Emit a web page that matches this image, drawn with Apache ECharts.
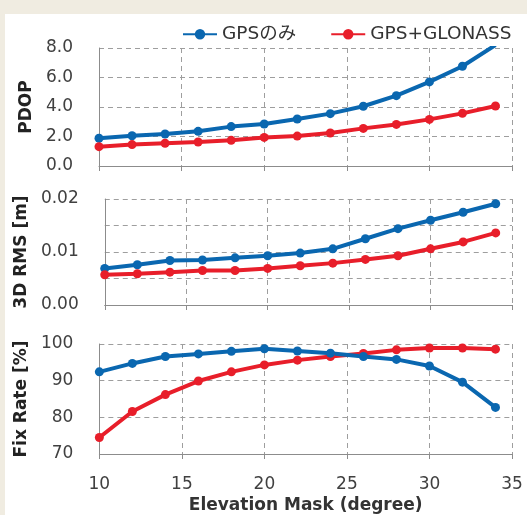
<!DOCTYPE html>
<html><head><meta charset="utf-8">
<script src="https://cdn.jsdelivr.net/npm/echarts@6/dist/echarts.min.js"></script>
<style>
html,body{margin:0;padding:0;background:#f0ece1;}
#wrap{position:relative;width:527px;height:515px;background:#f0ece1;overflow:hidden;}
#chart{position:absolute;left:5px;top:14px;width:522px;height:501px;background:#ffffff;}
</style></head>
<body><div id="wrap"><div id="chart"></div></div>
<script>
const elevation = [10,12,14,16,18,20,22,24,26,28,30,32,34];
const seriesNames = ['GPSのみ','GPS+GLONASS'];
const pdopGps = [1.88,2.05,2.17,2.35,2.67,2.85,3.19,3.55,4.05,4.77,5.70,6.76,8.2];
const pdopGlo = [1.31,1.45,1.54,1.63,1.74,1.94,2.03,2.24,2.55,2.82,3.16,3.57,4.07];
const rmsGps = [0.0069,0.0076,0.0084,0.0085,0.0089,0.0093,0.0098,0.0106,0.0125,0.0144,0.0160,0.0175,0.0191];
const rmsGlo = [0.0057,0.0059,0.0062,0.0065,0.0065,0.0069,0.0074,0.0079,0.0086,0.0093,0.0106,0.0119,0.0136];
const fixGps = [92.4,94.7,96.6,97.3,98.0,98.7,98.1,97.5,96.6,95.8,94.0,89.6,82.7];
const fixGlo = [74.5,81.6,86.2,89.9,92.4,94.3,95.6,96.6,97.4,98.4,98.9,98.9,98.6];
const xTicks = [10,15,20,25,30,35];
const colors = ['#0a67b0','#e81e2a'];

const FONT = "'DejaVu Sans','Noto Sans CJK JP',sans-serif";
const chart = echarts.init(document.getElementById('chart'));
const grids = [
  {left:94, right:15, top:34, height:118},
  {left:94, right:15, top:185, height:106},
  {left:94, right:15, top:330, height:113}
];
function xAxis(i){
  return {
    type:'value', gridIndex:i, min:xTicks[0], max:xTicks[xTicks.length-1], interval:5,
    axisLine:{show:true,lineStyle:{color:'#8c8c8c',width:1}},
    axisTick:{show:true,length:5,lineStyle:{color:'#8c8c8c'}},
    splitLine:{show:true,lineStyle:{color:'#9e9e9e',type:[5,4],width:1}},
    axisLabel:{show:i===2,color:'#404040',fontSize:17,fontFamily:FONT,margin:22},
    name:i===2?'Elevation Mask (degree)':'', nameLocation:'middle', nameGap:43,
    nameTextStyle:{color:'#333',fontSize:17,fontWeight:'bold',fontFamily:FONT}
  };
}
function yAxis(i,min,max,interval,fmt,name,gap){
  return {
    type:'value', gridIndex:i, min:min, max:max, interval:interval,
    axisLine:{show:true,lineStyle:{color:'#8c8c8c',width:1}},
    axisTick:{show:false},
    splitLine:{show:true,lineStyle:{color:'#9e9e9e',type:[5,4],width:1}},
    axisLabel:{color:'#404040',fontSize:17,fontFamily:FONT,margin:26,formatter:fmt},
    name:name, nameLocation:'middle', nameRotate:90, nameGap:gap,
    nameTextStyle:{color:'#222',fontSize:17,fontWeight:'bold',fontFamily:FONT}
  };
}
function pairs(ys){ return elevation.map((x,k)=>[x,ys[k]]); }
function line(name,data,i,color){
  return {type:'line',name:name,xAxisIndex:i,yAxisIndex:i,data:pairs(data),
    symbol:'circle',symbolSize:9,showSymbol:true,
    lineStyle:{color:color,width:4},itemStyle:{color:color},z:i===0?3:2};
}
chart.setOption({
  animation:false,
  color:colors,
  legend:{data:seriesNames,top:6,left:172,itemWidth:34,itemHeight:13,itemGap:34,
    textStyle:{color:'#333',fontSize:18.5,fontFamily:FONT}},
  grid:grids,
  xAxis:[xAxis(0),xAxis(1),xAxis(2)],
  yAxis:[
    yAxis(0,0,8,2,v=>v.toFixed(1),'PDOP',55),
    yAxis(1,0,0.02,0.005,v=>(Math.round(v*1000)%10===0?v.toFixed(2):''),'3D RMS [m]',66),
    yAxis(2,70,100,10,v=>String(v),'Fix Rate [%]',66)
  ],
  series:[
    line(seriesNames[0],pdopGps,0,colors[0]),
    line(seriesNames[1],pdopGlo,0,colors[1]),
    line(seriesNames[0],rmsGps,1,colors[0]),
    line(seriesNames[1],rmsGlo,1,colors[1]),
    line(seriesNames[1],fixGlo,2,colors[1]),
    line(seriesNames[0],fixGps,2,colors[0])
  ]
});
</script></body></html>
